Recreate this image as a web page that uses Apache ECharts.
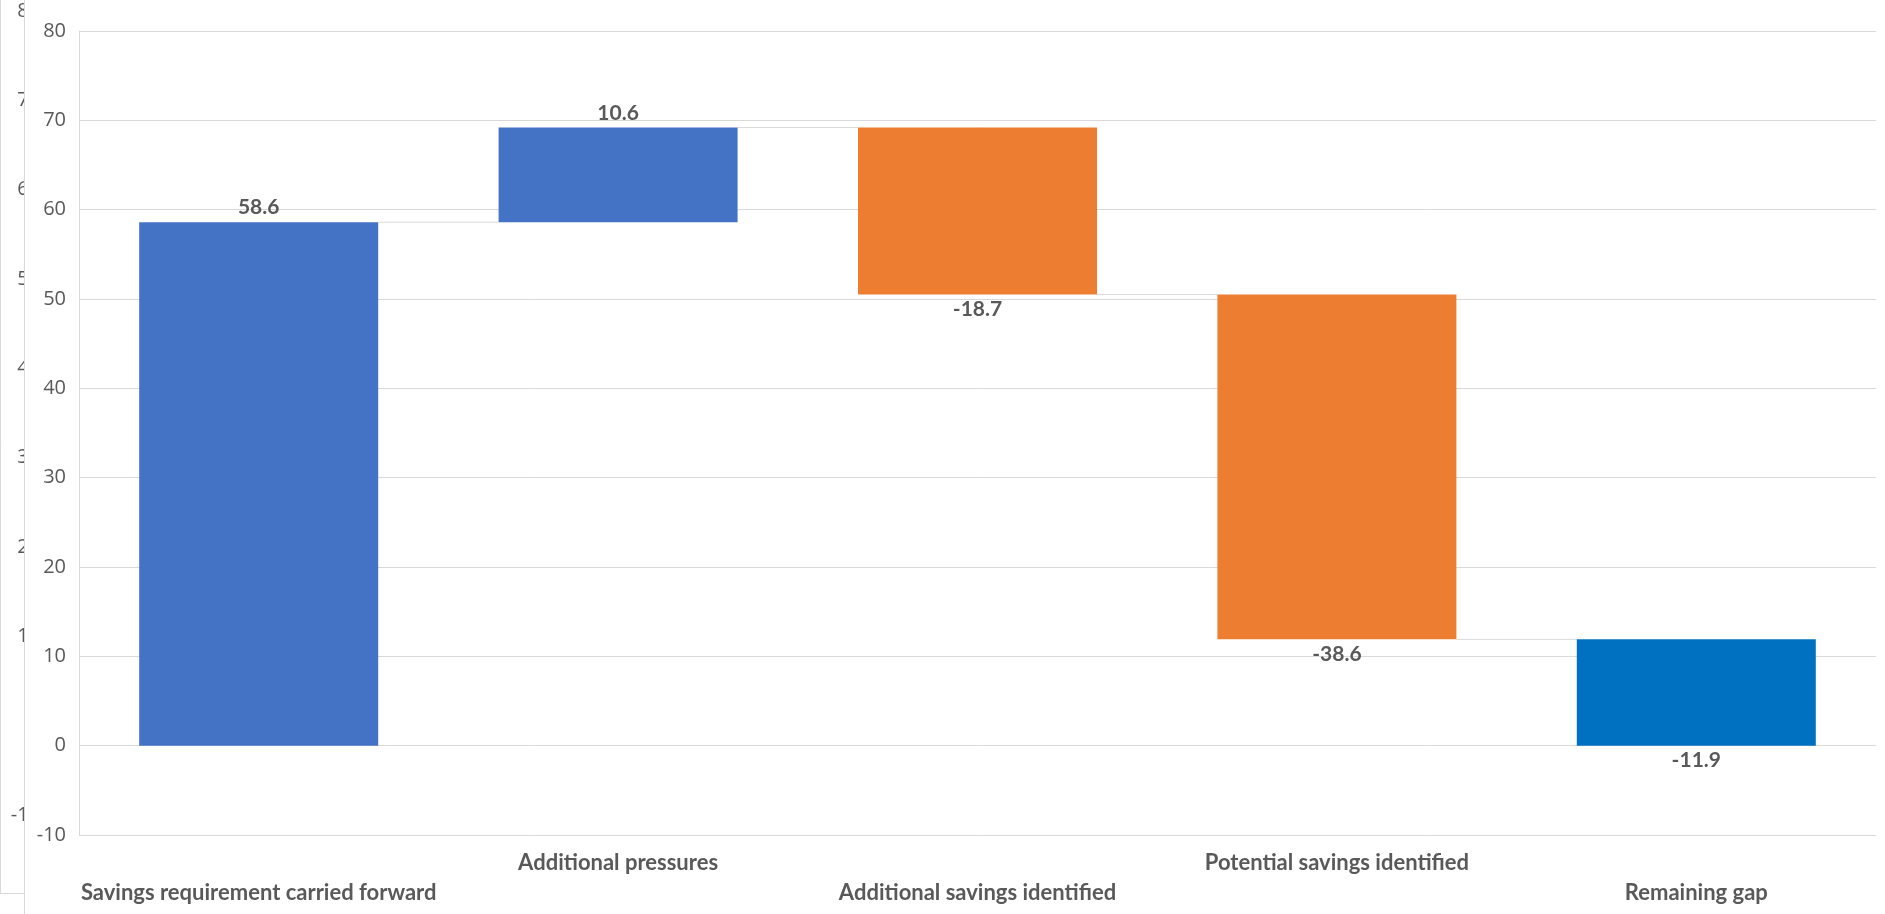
<!DOCTYPE html>
<html>
<head>
<meta charset="utf-8">
<script src="https://cdn.jsdelivr.net/npm/echarts@6/dist/echarts.min.js"></script>
<style>
html,body{margin:0;padding:0;background:#fff;}
#chart{width:1885px;height:914px;}
</style>
</head>
<body>
<div id="chart"></div>
<script>
// ---- data ----
var categories = ['Savings requirement carried forward', 'Additional pressures', 'Additional savings identified', 'Potential savings identified', 'Remaining gap'];
var changes = [58.6, 10.6, -18.7, -38.6, -11.9];
var isTotal = [false, false, false, false, true];
var barColors = ['#4472C4', '#4472C4', '#ED7D31', '#ED7D31', '#0070C0'];
var yTicks = { min: -10, max: 80, step: 10 };

// ---- derived waterfall values ----
var bases = [], heights = [], levels = [];
var running = 0;
for (var i = 0; i < changes.length; i++) {
  if (isTotal[i]) {
    bases.push(0);
    heights.push(+running.toFixed(1));
  } else {
    var next = running + changes[i];
    bases.push(+Math.min(running, next).toFixed(1));
    heights.push(+Math.abs(changes[i]).toFixed(1));
    running = next;
  }
  levels.push(+running.toFixed(1));
}
var connectorData = [];
for (var j = 0; j < categories.length - 1; j++) connectorData.push([j, levels[j]]);

var BAR_FRAC = 0.665;
var LABEL_COLOR = '#595959';
var BOLD_FONT = 'Lato, "Open Sans", sans-serif';

var chart = echarts.init(document.getElementById('chart'));
chart.setOption({
  animation: false,
  backgroundColor: '#ffffff',
  grid: [
    { left: 79, right: 9, top: 31, bottom: 79 },
    { left: 52, width: 10, top: 11, bottom: 99 }
  ],
  xAxis: [
    {
      type: 'category', gridIndex: 0, data: categories, z: 3,
      axisLine: { show: false, onZero: false },
      axisTick: { show: false },
      splitLine: { show: false },
      axisLabel: {
        interval: 0, margin: 13, color: LABEL_COLOR,
        fontFamily: BOLD_FONT, fontWeight: 'bold', fontSize: 22, lineHeight: 30,
        verticalAlign: 'top',
        formatter: function (v, idx) { return idx % 2 === 0 ? '\n' + v : v; }
      }
    },
    { type: 'value', gridIndex: 1, show: false }
  ],
  yAxis: [
    {
      type: 'value', gridIndex: 0, min: yTicks.min, max: yTicks.max, interval: yTicks.step, z: 3,
      axisLine: { show: true, lineStyle: { color: '#D9D9D9', width: 1 } },
      axisTick: { show: false },
      splitLine: { show: true, lineStyle: { color: '#D9D9D9', width: 1 } },
      axisLabel: { color: LABEL_COLOR, fontFamily: '"Open Sans", sans-serif', fontSize: 20, margin: 13 }
    },
    {
      type: 'value', gridIndex: 1, min: yTicks.min, max: yTicks.max, interval: yTicks.step, z: 0,
      axisLine: { show: false }, axisTick: { show: false }, splitLine: { show: false },
      axisLabel: { color: LABEL_COLOR, fontFamily: '"Open Sans", sans-serif', fontSize: 20, margin: 12 }
    }
  ],
  graphic: [
    { type: 'rect', z: 1, silent: true, shape: { x: 25, y: 0, width: 1860, height: 914 }, style: { fill: '#ffffff' } },
    { type: 'line', z: 10, silent: true, shape: { x1: 24.5, y1: 0, x2: 24.5, y2: 914 }, style: { stroke: '#D9D9D9', lineWidth: 1 } },
    { type: 'line', z: 10, silent: true, shape: { x1: 0.5, y1: 0, x2: 0.5, y2: 893.5 }, style: { stroke: '#D9D9D9', lineWidth: 1 } },
    { type: 'line', z: 10, silent: true, shape: { x1: 0, y1: 893.5, x2: 24.5, y2: 893.5 }, style: { stroke: '#D9D9D9', lineWidth: 1 } }
  ],
  series: [
    {
      name: 'base', type: 'bar', stack: 'wf', xAxisIndex: 0, yAxisIndex: 0, z: 5,
      barWidth: (BAR_FRAC * 100) + '%',
      itemStyle: { color: 'transparent' },
      emphasis: { disabled: true },
      data: bases
    },
    {
      name: 'value', type: 'bar', stack: 'wf', xAxisIndex: 0, yAxisIndex: 0, z: 5,
      barWidth: (BAR_FRAC * 100) + '%',
      data: heights.map(function (h, k) {
        return {
          value: h,
          itemStyle: { color: barColors[k] },
          label: {
            show: true,
            position: changes[k] < 0 ? 'bottom' : 'top',
            distance: 4,
            formatter: changes[k].toFixed(1),
            color: LABEL_COLOR, fontFamily: BOLD_FONT, fontWeight: 'bold', fontSize: 21
          }
        };
      })
    },
    {
      name: 'connectors', type: 'custom', xAxisIndex: 0, yAxisIndex: 0, z: 4, silent: true,
      data: connectorData,
      renderItem: function (params, api) {
        var idx = api.value(0);
        var lvl = api.value(1);
        var p1 = api.coord([idx, lvl]);
        var p2 = api.coord([idx + 1, lvl]);
        var half = api.size([1, 0])[0] * BAR_FRAC / 2;
        return {
          type: 'line',
          shape: { x1: p1[0] + half, y1: p1[1], x2: p2[0] - half, y2: p2[1] },
          style: { stroke: '#D9D9D9', lineWidth: 1 }
        };
      }
    }
  ]
});
</script>
</body>
</html>
